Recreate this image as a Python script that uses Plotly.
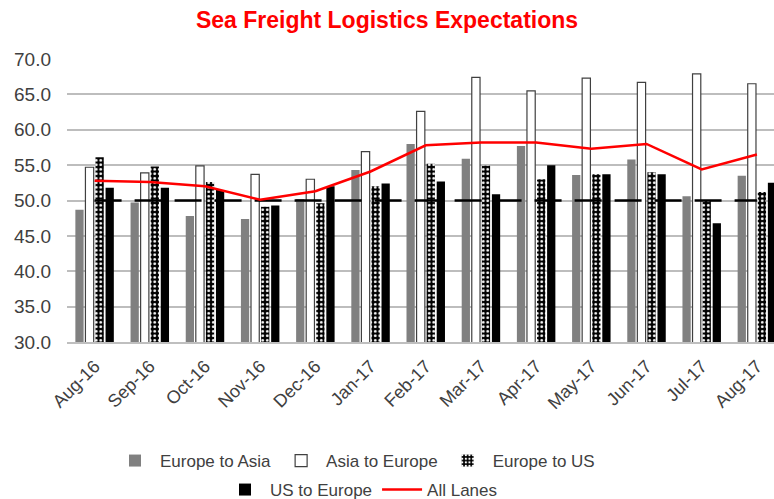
import plotly.graph_objects as go

months = ["Aug-16", "Sep-16", "Oct-16", "Nov-16", "Dec-16", "Jan-17", "Feb-17",
          "Mar-17", "Apr-17", "May-17", "Jun-17", "Jul-17", "Aug-17"]
europe_to_asia = [48.7, 49.7, 47.8, 47.4, 50.2, 54.3, 58.0, 55.9, 57.7, 53.6, 55.8, 50.6, 53.5]
asia_to_europe = [54.7, 53.9, 54.9, 53.7, 53.0, 56.9, 62.6, 67.4, 65.5, 67.3, 66.7, 67.9, 66.5]
europe_to_us = [56.1, 54.8, 52.6, 49.1, 49.6, 52.0, 55.2, 54.9, 53.0, 53.7, 54.0, 50.0, 51.2]
us_to_europe = [51.8, 51.8, 51.5, 49.3, 52.0, 52.4, 52.7, 50.9, 55.0, 53.7, 53.7, 46.8, 52.5]
all_lanes = [52.8, 52.6, 52.0, 50.1, 51.3, 54.1, 57.8, 58.2, 58.2, 57.3, 58.0, 54.4, 56.5]
threshold = [50.0] * len(months)
y_ticks = [30, 35, 40, 45, 50, 55, 60, 65, 70]

FONT = "Liberation Sans, Arial, sans-serif"
TXT = "#404040"

W, H = 774, 499

fig = go.Figure()
fig.add_trace(go.Bar(x=months, y=europe_to_asia, name="Europe to Asia",
                     marker=dict(color="#808080", line=dict(width=0))))
fig.add_trace(go.Bar(x=months, y=asia_to_europe, name="Asia to Europe",
                     marker=dict(color="white", line=dict(color="#404040", width=1.2))))
fig.add_trace(go.Bar(x=months, y=europe_to_us, name="Europe to US",
                     marker=dict(color="black", line=dict(width=0),
                                 pattern=dict(shape=".", fgcolor="white", bgcolor="black",
                                              size=4.5, solidity=0.3, fillmode="replace"))))
fig.add_trace(go.Bar(x=months, y=us_to_europe, name="US to Europe", legend="legend2",
                     marker=dict(color="black", line=dict(width=0))))
fig.add_trace(go.Scatter(x=months, y=threshold, mode="lines", showlegend=False,
                         line=dict(color="black", width=2.5, dash="27px,13px")))
fig.add_trace(go.Scatter(x=months, y=all_lanes, mode="lines", name="All Lanes",
                         legend="legend2", line=dict(color="#FF0000", width=2.5)))

fig.update_layout(
    width=W, height=H,
    margin=dict(l=67, r=0, t=59, b=157),
    paper_bgcolor="white", plot_bgcolor="white",
    barmode="group", bargap=0.27, bargroupgap=0.18,
    font=dict(family=FONT, color=TXT, size=17),
    title=dict(text="<b>Sea Freight Logistics Expectations</b>", x=0.5, xanchor="center",
               y=1 - 20 / H, yanchor="middle", yref="container",
               font=dict(family=FONT, size=23, color="#FF0000")),
    xaxis=dict(range=[-0.5, 12.31], tickangle=-45, showgrid=False,
               showline=True, linecolor="#BFBFBF", linewidth=1.5,
               tickfont=dict(size=18, color=TXT), ticklabelstandoff=5),
    yaxis=dict(range=[30, 70], tickvals=y_ticks, tickformat=".1f",
               showgrid=True, gridcolor="#BDBDBD", gridwidth=1.5,
               zeroline=False, showline=False,
               tickfont=dict(size=19, color=TXT), ticklabelstandoff=15),
    legend=dict(orientation="h", xref="container", yref="container",
                x=355 / W, xanchor="center", y=1 - 461 / H, yanchor="middle",
                font=dict(size=17, color=TXT), traceorder="normal",
                itemwidth=40),
    legend2=dict(orientation="h", xref="container", yref="container",
                 x=361 / W, xanchor="center", y=1 - 490 / H, yanchor="middle",
                 font=dict(size=17, color=TXT), traceorder="normal",
                 itemwidth=40),
)

fig.write_html("out.html",
               config={"displayModeBar": False},
               post_script="document.body.style.margin='0';"
                           "document.body.style.overflow='hidden';")
